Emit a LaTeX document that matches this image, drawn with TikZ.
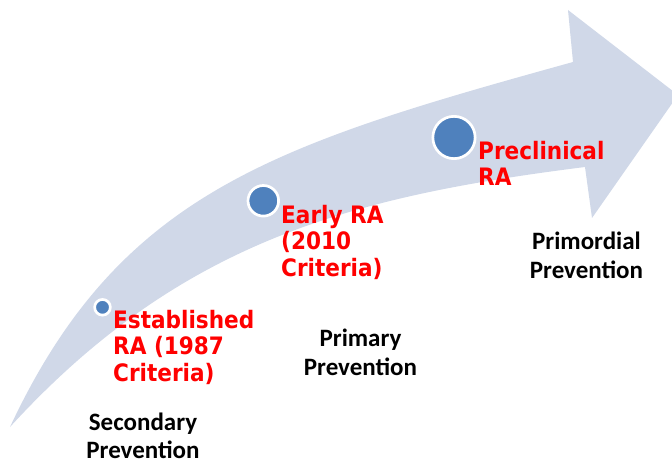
\documentclass[tikz,border=0pt]{standalone}
\usepackage{fontspec}
\setmainfont{DejaVu Sans Condensed}
\newfontfamily\prevfont{Carlito}
\begin{document}
\definecolor{arrowfill}{RGB}{208,216,232}
\definecolor{dotblue}{RGB}{79,129,189}
\begin{tikzpicture}[x=1pt,y=-1pt,
  stage/.style={circle,inner sep=0pt,fill=dotblue,draw=white,line width=2.7pt},
  stagelabel/.style={anchor=base west,inner sep=0pt,text=red,
    font=\fontsize{24}{26.6}\selectfont\bfseries},
  prevlabel/.style={anchor=base,inner sep=0pt,text=black,
    font=\prevfont\fontsize{25}{29}\selectfont\bfseries}]
  \useasboundingbox (0,0) rectangle (672,465);
  \clip (0,0) rectangle (672,465);
  % sweeping arrow
  \fill[arrowfill] (10,427) .. controls (120,192) and (275,144.5) .. (573,62)
    -- (568,10) -- (678,95) -- (592,218) -- (585,167)
    .. controls (356,196) and (182,239) .. (10,427) -- cycle;
  % stage markers
  \node[stage,minimum size=15.7pt] (est) at (102.5,307.3) {};
  \node[stage,minimum size=30.6pt] (early) at (263.3,200.8) {};
  \node[stage,minimum size=42.3pt] (pre) at (454,137.5) {};
  % stage labels
  \node[stagelabel] (estlbl) at (113,328.3)
    {\begin{tabular}[t]{@{}l@{}}Established\\RA (1987\\Criteria)\end{tabular}};
  \node[stagelabel] (earlylbl) at (281,223.3)
    {\begin{tabular}[t]{@{}l@{}}Early RA\\(2010\\Criteria)\end{tabular}};
  \node[stagelabel] (prelbl) at (478,159.3)
    {\begin{tabular}[t]{@{}l@{}}Preclinical\\RA\end{tabular}};
  % prevention levels
  \node[prevlabel] (secondary) at (143,430.5)
    {\begin{tabular}[t]{@{}c@{}}Secondary\\[-0.8pt]Prevention\end{tabular}};
  \node[prevlabel] (primary) at (360.5,346.7)
    {\begin{tabular}[t]{@{}c@{}}Primary\\Prevention\end{tabular}};
  \node[prevlabel] (primordial) at (586.5,249)
    {\begin{tabular}[t]{@{}c@{}}Primordial\\Prevention\end{tabular}};
\end{tikzpicture}
\end{document}
